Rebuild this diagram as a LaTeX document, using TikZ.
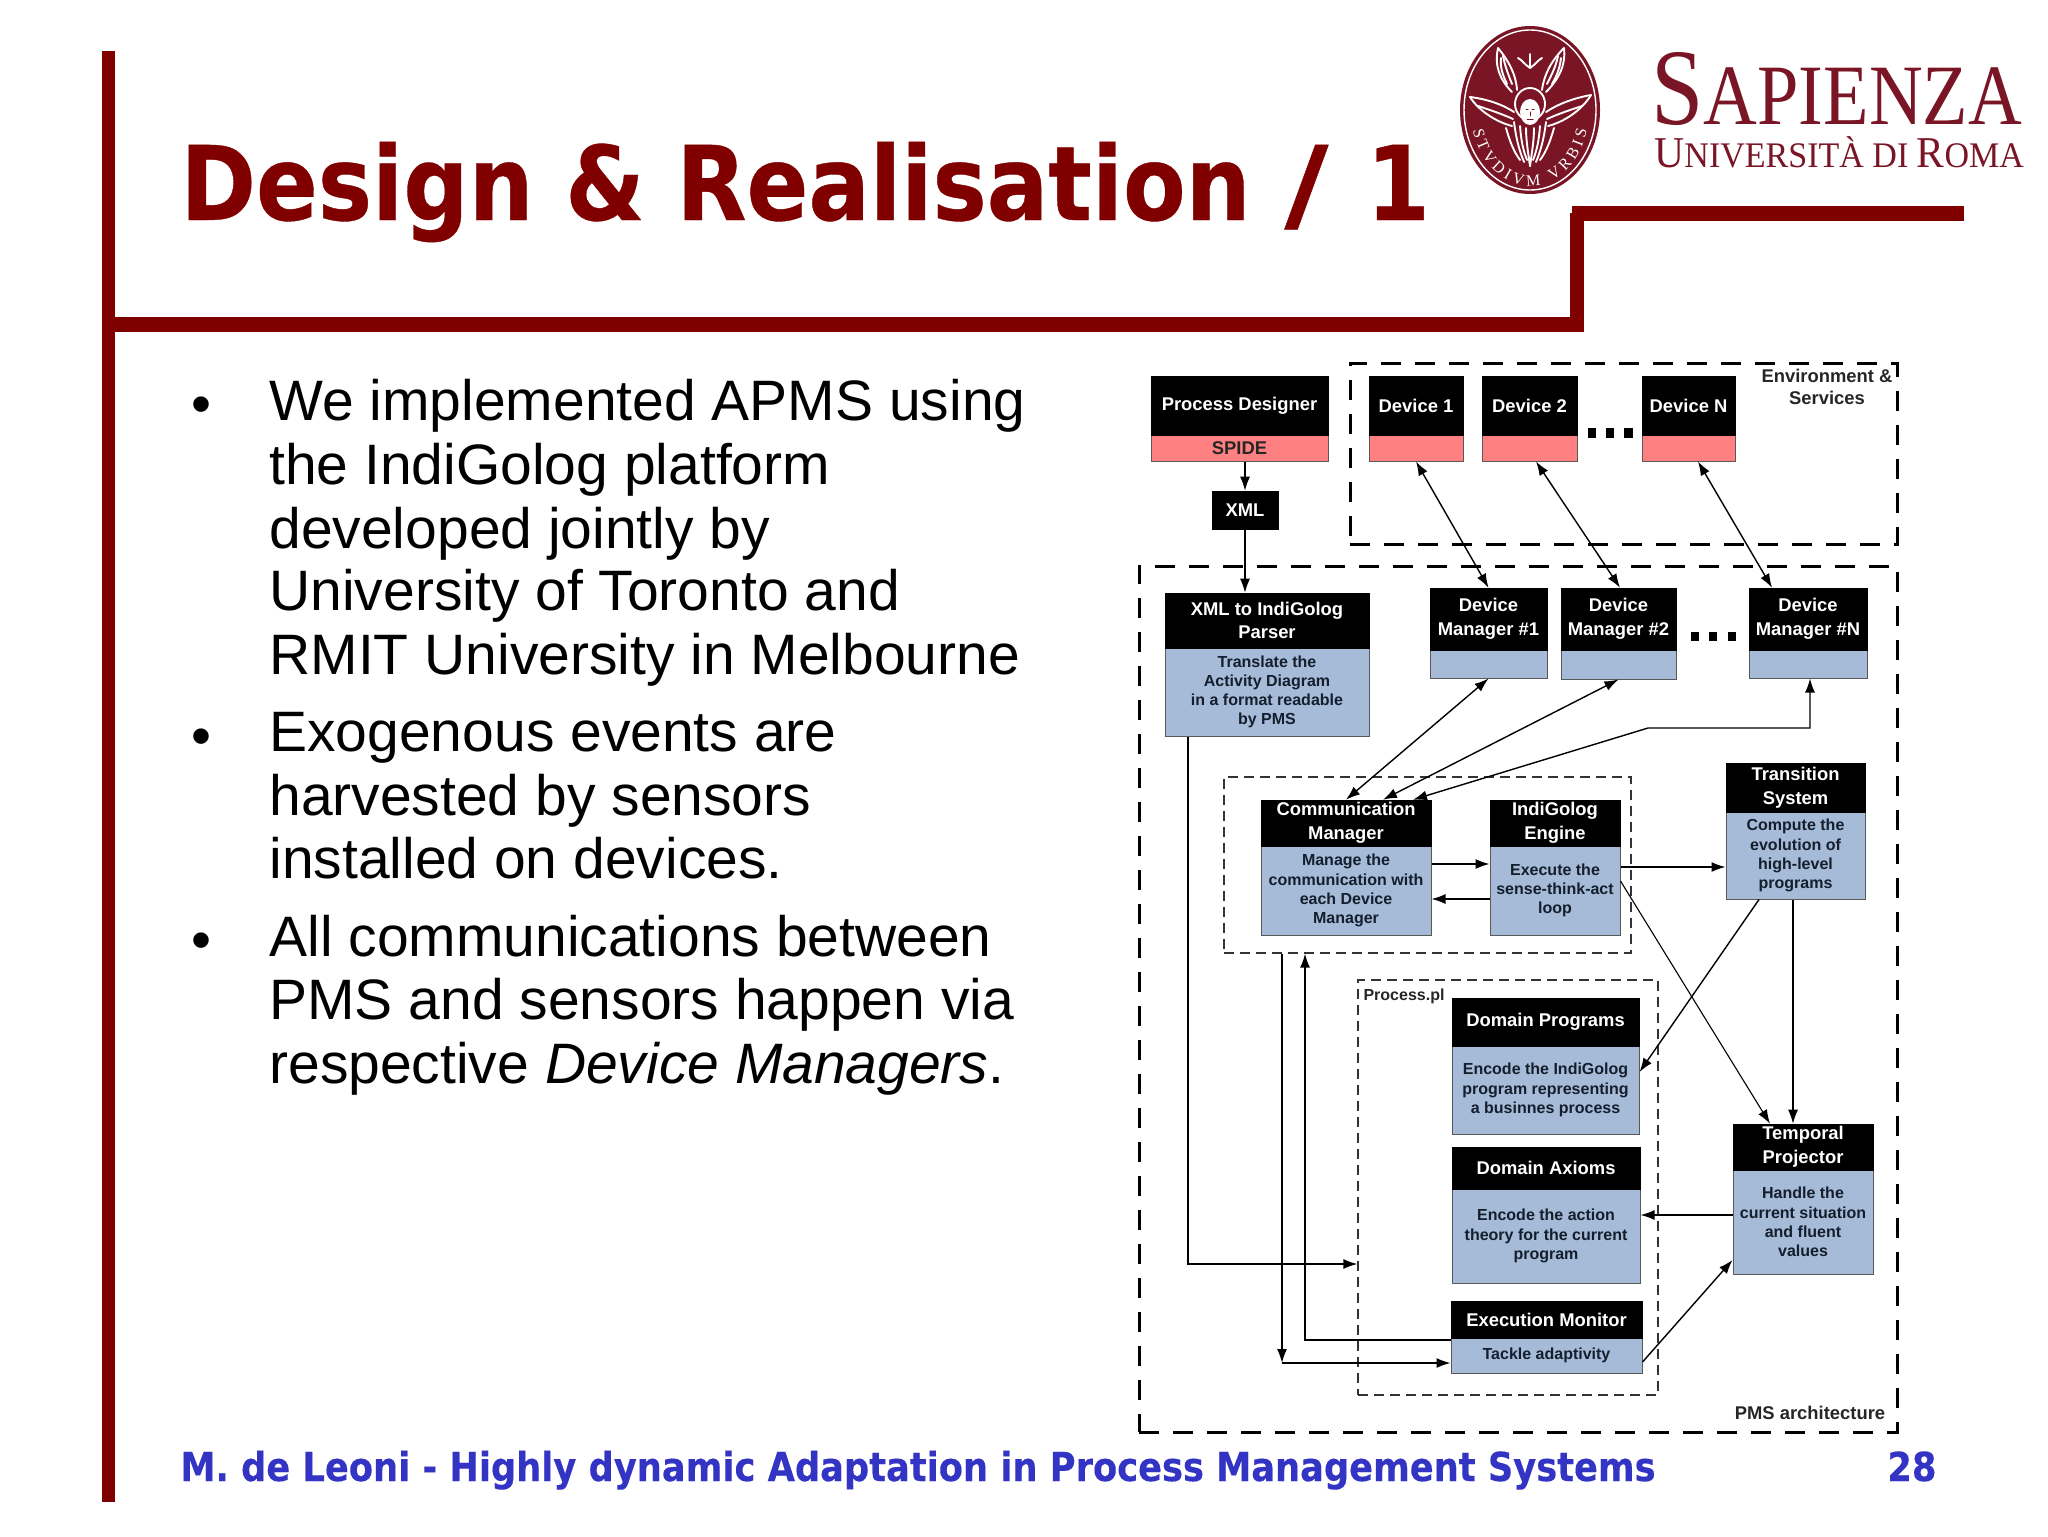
\documentclass[tikz,border=0pt]{standalone}
\usepackage{fontspec}
\setmainfont{Liberation Sans}
\newfontfamily\titlefont{DejaVu Sans Bold}[FakeStretch=0.885,FakeBold=0.35]
\newfontfamily\footfont{DejaVu Sans Bold}[FakeStretch=0.881,FakeBold=0.25]
\newfontfamily\sapfont{Liberation Serif}[FakeStretch=0.865]
\newfontfamily\unifont{Liberation Serif}[FakeStretch=0.945]
\newfontfamily\sealfont{Liberation Serif}
\usetikzlibrary{arrows.meta,decorations.text,calc}
\definecolor{slidered}{HTML}{800000}
\definecolor{logored}{HTML}{7A1525}
\definecolor{footblue}{HTML}{3333C4}
\definecolor{boxblue}{HTML}{A6BBD8}
\definecolor{boxpink}{HTML}{FF8080}
\definecolor{bodyink}{HTML}{141E2C}
\tikzset{
  px/.style={x=0.5pt,y=-0.5pt},
  headbox/.style={fill=black,draw=black,line width=.3pt,text=white,inner sep=0pt,align=center,font=\fontsize{9.2}{11.8}\selectfont\bfseries},
  bluebody/.style={fill=boxblue,draw=black!65,line width=.5pt,text=bodyink,inner sep=0pt,align=center,font=\fontsize{8}{9.6}\selectfont\bfseries},
  pinkbody/.style={fill=boxpink,draw=black!65,line width=.5pt,text=black!85,inner sep=0pt,align=center,font=\fontsize{9.2}{11}\selectfont\bfseries},
  bigdash/.style={draw=black,line width=1.5pt,dash pattern=on 10pt off 7pt,inner sep=0pt},
  smalldash/.style={draw=black!80,line width=.65pt,dash pattern=on 5pt off 3pt,inner sep=0pt},
  conn/.style={line width=.7pt,-{Latex[length=7pt,width=5pt]}},
  biconn/.style={line width=.7pt,{Latex[length=7pt,width=5pt]}-{Latex[length=7pt,width=5pt]}},
  caption/.style={inner sep=0pt,text=black!85,align=center,font=\fontsize{9.2}{11}\selectfont\bfseries},
  bodyline/.style={anchor=base west,inner sep=0pt,font=\fontsize{28.5}{30}\selectfont},
  bulletmark/.style={inner sep=0pt,font=\fontsize{28.5}{30}\selectfont},
  redbar/.style={fill=slidered,draw=none},
  dotmark/.style={fill=black,draw=none,inner sep=0pt},
  sealink/.style={draw=white,line width=.95pt,line cap=round,line join=round}
}
\newcommand{\cbox}[9]{%
  \pgfmathsetmacro{\cbw}{(#3-#2)*0.5}%
  \pgfmathsetmacro{\cbx}{(#3+#2)/2}%
  \pgfmathsetmacro{\cbha}{(#5-#4)*0.5}%
  \pgfmathsetmacro{\cbya}{(#5+#4)/2}%
  \pgfmathsetmacro{\cbhb}{(#6-#5)*0.5}%
  \pgfmathsetmacro{\cbyb}{(#6+#5)/2}%
  \node[#7,minimum width=\cbw pt,minimum height=\cbhb pt] (#1b) at (\cbx,\cbyb) {#9};
  \node[headbox,minimum width=\cbw pt,minimum height=\cbha pt] (#1h) at (\cbx,\cbya) {#8};
}
\newcommand{\dshbox}[6]{%
  \pgfmathsetmacro{\cbw}{(#3-#2)*0.5}%
  \pgfmathsetmacro{\cbx}{(#3+#2)/2}%
  \pgfmathsetmacro{\cbha}{(#5-#4)*0.5}%
  \pgfmathsetmacro{\cbya}{(#5+#4)/2}%
  \node[#6,minimum width=\cbw pt,minimum height=\cbha pt] (#1) at (\cbx,\cbya) {};
}
\begin{document}
\begin{tikzpicture}[px]
\useasboundingbox (0,0) rectangle (2048,1536);
\fill[white] (0,0) rectangle (2048,1536);

% slide frame
\fill[redbar] (102,51) rectangle (115,1502);
\fill[redbar] (102,317) rectangle (1584,332);
\fill[redbar] (1570,213) rectangle (1584,332);
\fill[redbar] (1572,206) rectangle (1964,221);

% title
\node[anchor=base west,inner sep=0pt,text=slidered,font=\titlefont\fontsize{51.5}{60}\selectfont] (title) at (180,220) {Design \& Realisation};
\node[anchor=base west,inner sep=0pt,text=slidered,font=\titlefont\fontsize{51.5}{60}\selectfont] (titleno) at (1284,220) {\resizebox{22pt}{\height}{/}\kern19pt 1};

% seal
\fill[logored] (1530,110) ellipse [x radius=70,y radius=84];
\draw[white,line width=.7pt] (1530,110) ellipse [x radius=66,y radius=80];
\begin{scope}[sealink]
  % crown
  \draw (1530,68) -- (1530,54) (1530,68) .. controls (1524,64) and (1522,60) .. (1518,58) (1530,68) .. controls (1536,64) and (1538,60) .. (1542,58);
  % upper wings
  \draw (1512,92) .. controls (1500,80) and (1494,66) .. (1498,48) .. controls (1508,60) and (1516,74) .. (1517,90);
  \draw (1507,84) .. controls (1502,74) and (1500,66) .. (1501,58);
  \draw (1512,84) .. controls (1508,74) and (1505,66) .. (1503,56);
  \draw (1546,92) .. controls (1558,80) and (1566,66) .. (1564,48) .. controls (1552,60) and (1544,74) .. (1542,90);
  \draw (1552,84) .. controls (1558,74) and (1560,66) .. (1561,58);
  \draw (1547,84) .. controls (1552,74) and (1556,66) .. (1558,56);
  % side wings
  \draw (1470,97) .. controls (1486,99) and (1502,104) .. (1514,112);
  \draw (1470,97) .. controls (1478,110) and (1496,122) .. (1512,126);
  \draw (1478,106) .. controls (1490,110) and (1502,114) .. (1513,119);
  \draw (1591,95) .. controls (1574,98) and (1558,104) .. (1546,112);
  \draw (1591,95) .. controls (1582,110) and (1564,122) .. (1548,126);
  \draw (1582,106) .. controls (1570,110) and (1558,114) .. (1547,119);
  % head
  \fill[white] (1530,112) ellipse [x radius=10,y radius=13];
  \draw (1530,104) ellipse [x radius=15,y radius=16];
  \draw[logored,line width=.5pt] (1526,110) -- (1528,110) (1532,110) -- (1534,110) (1530,112) -- (1530,116) (1527,119) -- (1533,119);
  % robe
  \draw (1514,122) .. controls (1516,138) and (1519,150) .. (1524,162);
  \draw (1520,126) .. controls (1521,140) and (1523,150) .. (1527,160);
  \draw (1526,128) .. controls (1526,140) and (1528,152) .. (1530,166);
  \draw (1534,128) .. controls (1534,140) and (1532,152) .. (1530,166);
  \draw (1540,126) .. controls (1539,140) and (1537,150) .. (1533,160);
  \draw (1546,122) .. controls (1544,138) and (1541,150) .. (1536,162);
  \draw (1506,128) .. controls (1510,142) and (1514,152) .. (1520,160);
  \draw (1554,128) .. controls (1550,142) and (1546,152) .. (1540,160);
\end{scope}
\path[postaction={decorate,decoration={text along path,text align={fit to path},
   text={|\sealfont\fontsize{8}{9}\selectfont\color{white}|STVDIVM VRBIS}}}]
   (1473,130) .. controls (1480,165) and (1505,186) .. (1530,186) .. controls (1555,186) and (1580,165) .. (1587,130);

% university name
\node[anchor=base west,inner sep=0pt,text=logored,font=\sapfont] (sap) at (1651,125) {\fontsize{54.4}{60}\selectfont S\fontsize{43}{50}\selectfont APIENZA};
\node[anchor=base west,inner sep=0pt,text=logored,font=\unifont] (uni) at (1654,167) {\fontsize{22}{26}\selectfont U\fontsize{18}{22}\selectfont NIVERSIT\`A DI \fontsize{22}{26}\selectfont R\fontsize{18}{22}\selectfont OMA};

% bullets
\node[bulletmark] (b1) at (201,410) {•};
\node[bulletmark] (b2) at (201,742) {•};
\node[bulletmark] (b3) at (201,946) {•};
\node[bodyline] (l1) at (269,420) {We implemented APMS using};
\node[bodyline] (l2) at (269,484) {the IndiGolog platform};
\node[bodyline] (l3) at (269,548) {developed jointly by};
\node[bodyline] (l4) at (269,610) {University of Toronto and};
\node[bodyline] (l5) at (269,674) {RMIT University in Melbourne};
\node[bodyline] (l6) at (269,751) {Exogenous events are};
\node[bodyline] (l7) at (269,815) {harvested by sensors};
\node[bodyline] (l8) at (269,878) {installed on devices.};
\node[bodyline] (l9) at (269,956) {All communications between};
\node[bodyline] (l10) at (269,1019) {PMS and sensors happen via};
\node[bodyline] (l11) at (269,1083) {respective \textit{Device Managers}.};

% footer
\node[anchor=base west,inner sep=0pt,text=footblue,font=\footfont\fontsize{20}{24}\selectfont] (foot) at (180,1481) {M. de Leoni - Highly dynamic Adaptation in Process Management Systems};
\node[anchor=base west,inner sep=0pt,text=footblue,font=\footfont\fontsize{20}{24}\selectfont] (pageno) at (1887,1481) {28};

% dashed frames
\dshbox{envbox}{1350}{1897}{363}{544}{bigdash}
\dshbox{pmsbox}{1139}{1897}{566}{1432}{bigdash}
\dshbox{commbox}{1224}{1631}{777}{953}{smalldash}
\dshbox{procbox}{1358}{1658}{980}{1395}{smalldash}

% captions
\node[caption] (envcap) at (1827,387) {Environment \&\\Services};
\node[caption] (pmscap) at (1810,1413) {PMS architecture};
\node[caption,font=\fontsize{8}{10}\selectfont\bfseries] (proccap) at (1404,996) {Process.pl};

% boxes
\cbox{pd}{1151}{1328}{376}{435}{461}{pinkbody}{Process Designer}{SPIDE}
\cbox{devone}{1369}{1463}{376}{435}{461}{pinkbody}{Device 1}{}
\cbox{devtwo}{1482}{1577}{376}{435}{461}{pinkbody}{Device 2}{}
\cbox{devn}{1642}{1735}{376}{435}{461}{pinkbody}{Device N}{}
\node[headbox,minimum width=33pt,minimum height=19pt] (xml) at (1245,510) {XML};
\cbox{parser}{1165}{1369}{593}{648}{736}{bluebody}{XML to IndiGolog\\Parser}{Translate the\\Activity Diagram\\in a format readable\\by PMS}
\cbox{dmone}{1430}{1547}{588}{650}{678}{bluebody}{Device\\Manager \#1}{}
\cbox{dmtwo}{1561}{1676}{588}{650}{679}{bluebody}{Device\\Manager \#2}{}
\cbox{dmn}{1749}{1867}{588}{650}{678}{bluebody}{Device\\Manager \#N}{}
\cbox{cm}{1261}{1431}{800}{846}{935}{bluebody}{Communication\\Manager}{Manage the\\communication with\\each Device\\Manager}
\cbox{ig}{1490}{1620}{800}{846}{935}{bluebody}{IndiGolog\\Engine}{Execute the\\sense-think-act\\loop}
\cbox{ts}{1726}{1865}{763}{812}{899}{bluebody}{Transition\\System}{Compute the\\evolution of\\high-level\\programs}
\cbox{dp}{1452}{1639}{998}{1046}{1134}{bluebody}{Domain Programs}{Encode the IndiGolog\\program representing\\a businnes process}
\cbox{da}{1452}{1640}{1147}{1189}{1283}{bluebody}{Domain Axioms}{Encode the action\\theory for the current\\program}
\cbox{tp}{1733}{1873}{1124}{1170}{1274}{bluebody}{Temporal\\Projector}{Handle the\\current situation\\and fluent\\values}
\cbox{em}{1451}{1642}{1301}{1338}{1373}{bluebody}{Execution Monitor}{Tackle adaptivity}

% ellipsis marks
\foreach \n/\xa/\xb in {a/1588/1596,b/1606/1614,c/1624/1633}{
  \fill[dotmark] (\xa,428) rectangle (\xb,438);
}
\foreach \n/\xa/\xb in {d/1691/1699,e/1709/1717,f/1728/1736}{
  \fill[dotmark] (\xa,632) rectangle (\xb,641);
}

% connectors
\coordinate (dmbend) at (1648,728);
\coordinate (emturn) at (1282,1363);
\draw[conn] (pdb.south -| xml.north) -- (xml.north);
\draw[conn] (xml.south) -- (parserh.north -| xml.south);
\draw[biconn] (devoneb.south) -- (dmoneh.north);
\draw[biconn] ([xshift=3.25pt]devtwob.south) -- ([xshift=.75pt]dmtwoh.north);
\draw[biconn] ([xshift=4.75pt]devnb.south) -- ([xshift=-18pt]dmnh.north);
\draw[biconn] (dmoneb.south) -- (cmh.north);
\draw[biconn] (dmtwob.south) -- ([xshift=18.5pt]cmh.north);
\draw[biconn] ([xshift=1pt]dmnb.south) |- (dmbend) -- ([xshift=33.5pt]cmh.north);
\draw[conn] ([yshift=13.25pt]cmb.east) -- ([yshift=13.25pt]igb.west);
\draw[conn] ([yshift=-4.25pt]igb.west) -- ([yshift=-4.25pt]cmb.east);
\draw[conn] ([yshift=11.75pt]igb.east) -- ([yshift=11.75pt]igb.east -| tsb.west);
\draw[conn,line width=.55pt] ([yshift=4.75pt]igb.east) -- ([xshift=-16.5pt]tph.north);
\draw[conn] ([xshift=-18.25pt]tsb.south) -- ([yshift=9pt]dpb.east);
\draw[conn] ([xshift=-1.25pt]tsb.south) -- ([xshift=-5pt]tph.north);
\draw[conn] ([yshift=3.5pt]tpb.west) -- ([yshift=10.5pt]dab.east);
\draw[conn] ([yshift=-3.25pt]emb.east) -- ([yshift=-19pt]tpb.west);
\draw[conn] ([xshift=-39.5pt]parserb.south) |- ([yshift=-38.25pt]procbox.west);
\draw[conn] ([xshift=-72.75pt]commbox.south) -- (emturn);
\draw[conn] (emturn) -- ([yshift=-3.75pt]emb.west);
\draw[conn] ([yshift=-10.25pt]emh.west) -| ([xshift=-61.25pt]commbox.south);
\end{tikzpicture}
\end{document}
